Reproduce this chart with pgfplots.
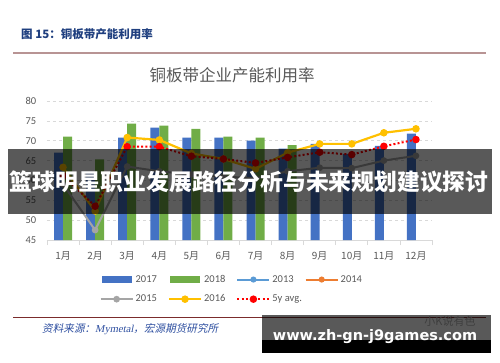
\documentclass[border=0pt]{standalone}
\usepackage{fontspec}
\setmainfont{Carlito}
\newfontfamily\cjk{Noto Sans CJK SC}
\newfontfamily\cjksl{Noto Sans CJK SC}[FakeSlant=0.2]
\newfontfamily\serifit{Liberation Serif}[FakeSlant=0.2]
\newfontfamily\webfont{DejaVu Sans}
\usepackage{pgfplots}
\usepackage{pgfplotstable}
\pgfplotsset{compat=1.18}
\definecolor{c17}{HTML}{4472C4}
\definecolor{c18}{HTML}{70AD47}
\definecolor{c13}{HTML}{5B9BD5}
\definecolor{c14}{HTML}{ED7D31}
\definecolor{c15}{HTML}{A5A5A5}
\definecolor{c16}{HTML}{FFC000}
\definecolor{c5y}{HTML}{FF0000}
\definecolor{tickgray}{HTML}{595959}
\definecolor{gridgray}{HTML}{D9D9D9}
\definecolor{titleblue}{HTML}{1F3F7F}
\definecolor{srcblue}{HTML}{2E4FA0}
\definecolor{topline}{HTML}{B89494}
\definecolor{botline}{HTML}{7B2C2C}
\pgfplotstableread{
m b17 g18 y15 y16 avg
1 67 71 59 63.3 61.2
2 62 65.3 47.5 52.3 53.5
3 70.8 74.3 63.5 70.8 68.5
4 73.3 73.8 62.3 70.2 68.5
5 70.8 73 61.5 66.8 66.1
6 70.8 71 61 65.4 65.4
7 70 70.8 60.5 62.9 64.4
8 68 68.9 62.3 67 65.8
9 69.2 nan 63.2 69.2 67.1
10 66.7 nan 63.1 69.2 66.5
11 68.7 nan 65 72 68.6
12 71.8 nan 66.2 73 70.3
}\data
\begin{document}
\begin{tikzpicture}[x=1pt,y=1pt]
\path[use as bounding box] (0,0) rectangle (500,362);
% header
\node[anchor=west, inner sep=0, text=titleblue, font=\cjk\bfseries\fontsize{11.5}{12}\selectfont] at (21,328) {图 15：铜板带产能利用率};
\draw[topline, line width=1.3pt] (13,309) -- (486,309);
\node[text=tickgray, font=\cjk\fontsize{16.5}{17}\selectfont] at (232,287) {铜板带企业产能利用率};
\begin{axis}[
  at={(47pt,122pt)}, anchor=south west, scale only axis,
  width=385pt, height=139pt,
  xmin=0.5, xmax=12.5, ymin=45, ymax=80,
  axis lines=left, axis line style={-},
  x axis line style={draw=gridgray, line width=0.8pt},
  y axis line style={draw=none},
  xtick={1,...,12},
  xticklabels={1月,2月,3月,4月,5月,6月,7月,8月,9月,10月,11月,12月},
  xticklabel style={font=\cjk\fontsize{10}{10}\selectfont, text=tickgray, yshift=-4pt},
  major x tick style={draw=none},
  minor xtick={0.5,1.5,...,12.5},
  minor x tick style={draw=gridgray, line width=0.8pt},
  minor tick length=5pt, tick align=outside,
  ytick={45,50,...,80},
  y tick style={draw=none},
  yticklabel style={font=\fontsize{10.5}{10.5}\selectfont, text=tickgray, xshift=-3pt},
  /pgf/number format/assume math mode=true,
  ymajorgrids, grid style={dashed, draw=gridgray, line width=0.6pt},
  legend columns=4,
  legend cell align=left,
  legend style={at={(0.48,-0.355)}, anchor=center, draw=none, fill=none,
     font=\fontsize{10.5}{11}\selectfont, text=tickgray, row sep=7pt,
     /tikz/every even column/.append style={column sep=9pt}},
]
\addplot[ybar, bar width=9pt, bar shift=-4.5pt, fill=c17, draw=none,
  legend image code/.code={\fill[c17] (1pt,-3.5pt) rectangle (31pt,3.5pt);}]
  table[x=m,y=b17]{\data};
\addlegendentry{2017}
\addplot[ybar, bar width=9pt, bar shift=4.5pt, fill=c18, draw=none,
  legend image code/.code={\fill[c18] (1pt,-3.5pt) rectangle (31pt,3.5pt);}]
  table[x=m,y=g18]{\data};
\addlegendentry{2018}
\pgfplotsset{linelegend/.style={legend image code/.code={\draw[mark repeat=2,mark phase=2,##1] plot coordinates {(0pt,0pt) (16pt,0pt) (32pt,0pt)};}}}
\addlegendimage{c13, line width=2pt, mark=*, mark size=2pt, mark options={fill=c13,draw=c13}, linelegend}
\addlegendentry{2013}
\addlegendimage{c14, line width=2pt, mark=*, mark size=2pt, mark options={fill=c14,draw=c14}, linelegend}
\addlegendentry{2014}
\addplot[c15, line width=2pt, mark=*, mark size=2.3pt, mark options={fill=c15,draw=c15}, linelegend]
  table[x=m,y=y15]{\data};
\addlegendentry{2015}
\addplot[c16, line width=2.2pt, mark=*, mark size=2.6pt, mark options={fill=c16,draw=c16}, linelegend]
  table[x=m,y=y16]{\data};
\addlegendentry{2016}
\addplot[c5y, line width=2pt, dash pattern=on 2pt off 2.2pt, mark=*, mark size=2.7pt, mark options={solid,fill=c5y,draw=c5y}, linelegend]
  table[x=m,y=avg]{\data};
\addlegendentry{\makebox[21pt][l]{5y avg.}}
\end{axis}
% band overlay
\fill[black, opacity=0.65] (8,148) rectangle (492,213);
\node[text=white, font=\cjk\bfseries\fontsize{22.8}{23}\selectfont] at (249,180) {篮球明星职业发展路径分析与未来规划建议探讨};
% footer
\draw[botline, line width=1pt] (13,44.5) -- (486,44.5);
\node[anchor=west, inner sep=0, text=srcblue, font=\cjksl\fontsize{10.6}{11}\selectfont] at (42,33) {资料来源：{\serifit Mymetal}，宏源期货研究所};
\node[text=gray!60, font=\cjk\fontsize{11}{11}\selectfont] at (450,41) {小K说有色};
\fill[black, opacity=0.65] (262,22) rectangle (491,47);
\fill[black] (262,9) rectangle (491,22);
\node[text=white, font=\webfont\bfseries\fontsize{14.5}{15}\selectfont] at (375,25) {www.zh-gn-j9games.com};
\end{tikzpicture}
\end{document}
